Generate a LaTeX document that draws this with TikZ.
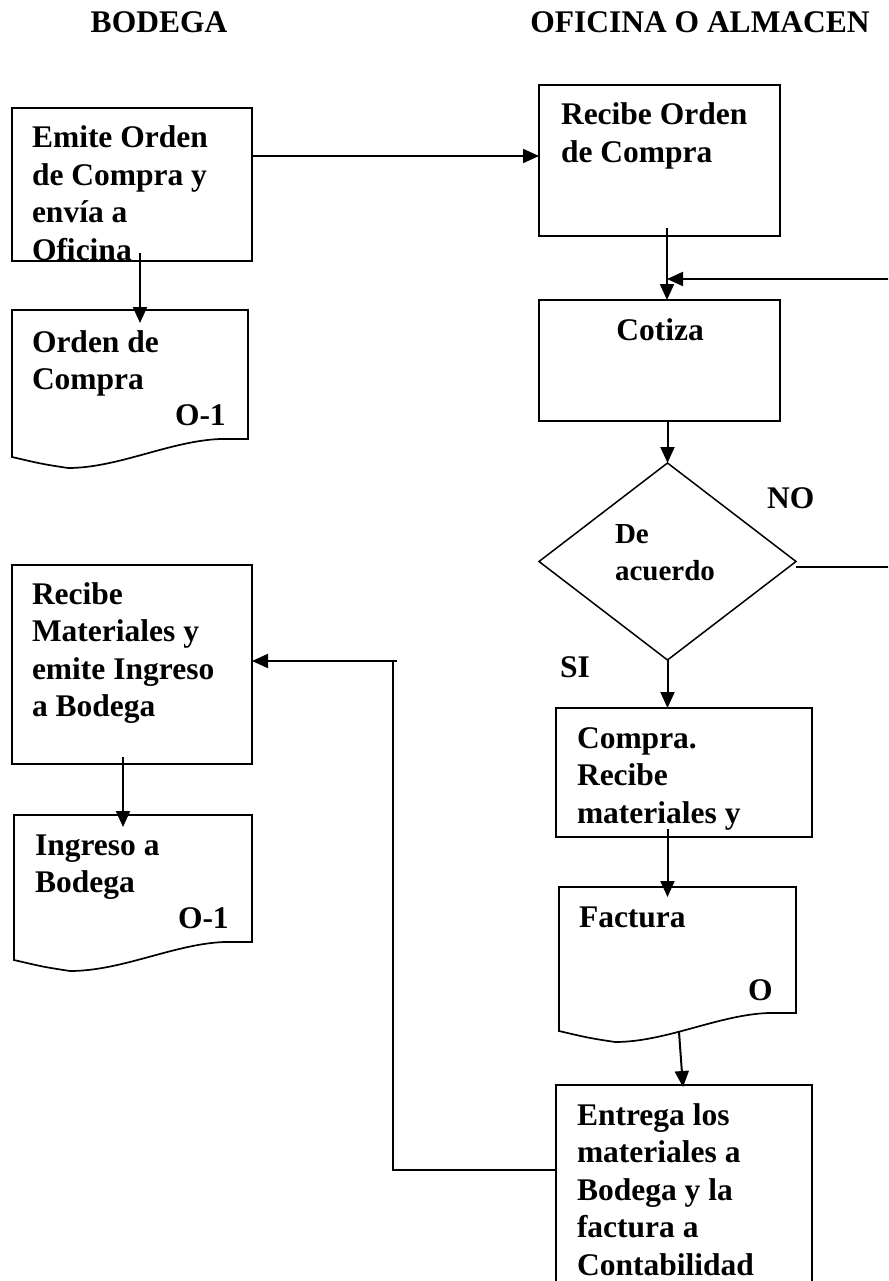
\documentclass[tikz,border=0pt]{standalone}
\usepackage{fontspec}
\setmainfont{Liberation Serif}
\usetikzlibrary{arrows.meta,shapes.geometric,calc}

% left-aligned lines whose reference point is the first baseline
\newcommand{\stack}[1]{\vtop{\let\\\cr\halign{##\hfil\cr#1\crcr}}}

% outline of a flowchart "document" symbol around a named area node
\newcommand{\docoutline}[1]{%
  \draw[line width=1.7pt, line join=miter]
    (#1.north west) -- (#1.north east) -- (#1.south east)
    -- ([xshift=-28pt]#1.south east)
    .. controls ([xshift=-78pt,yshift=-2pt]#1.south east) and ([xshift=-130pt,yshift=-29pt]#1.south east)
    .. ([xshift=56pt,yshift=-29pt]#1.south west)
    .. controls ([xshift=30pt,yshift=-25pt]#1.south west)
    .. ([yshift=-18pt]#1.south west) -- cycle;}

\begin{document}
\begin{tikzpicture}[x=1pt,y=-1pt,
  lbl/.style={font=\fontsize{31.5}{37.5}\selectfont\bfseries, inner sep=0pt, outer sep=0pt, anchor=base west},
  smalllbl/.style={lbl, font=\fontsize{29}{37}\selectfont\bfseries},
  stepbox/.style={draw, line width=1.7pt, inner sep=0pt, outer sep=0pt, anchor=north west},
  docarea/.style={inner sep=0pt, outer sep=0pt, anchor=north west},
  flow/.style={line width=2pt, -{Triangle[width=14pt,length=16pt]}},
  link/.style={line width=1.5pt},
]
\useasboundingbox (0,0) rectangle (888,1281);
\fill[white] (0,0) rectangle (888,1281);
\clip (0,0) rectangle (888,1281);

% column headings
\node[lbl, anchor=base] (hbod) at (159,33) {BODEGA};
\node[lbl, anchor=base] (hofi) at (700,33) {OFICINA O ALMACEN};

% ---- BODEGA column ----
\node[stepbox, minimum width=240pt, minimum height=153pt] (emite) at (12,108) {};
\begin{scope}
  \clip (emite.north west) rectangle (emite.south east);
  \node[lbl] (emitet) at (32,148) {\stack{Emite Orden\\de Compra y\\envía a\\Oficina}};
\end{scope}

\node[docarea, minimum width=236pt, minimum height=129pt] (ordoc) at (12,310) {};
\docoutline{ordoc}
\node[lbl] (ordoct) at (32,352) {\stack{Orden de\\Compra}};
\node[lbl] (ordocn) at (175,425) {O-1};

\node[stepbox, minimum width=240pt, minimum height=199pt] (recmat) at (12,565) {};
\node[lbl] (recmatt) at (32,604) {\stack{Recibe\\Materiales y\\emite Ingreso\\a Bodega}};

\node[docarea, minimum width=238pt, minimum height=127pt] (ingdoc) at (14,815) {};
\docoutline{ingdoc}
\node[lbl] (ingdoct) at (35,855) {\stack{Ingreso a\\Bodega}};
\node[lbl] (ingdocn) at (178,928) {O-1};

% ---- OFICINA column ----
\node[stepbox, minimum width=241pt, minimum height=151pt] (record) at (539,85) {};
\node[lbl] (recordt) at (561,125) {\stack{Recibe Orden\\de Compra}};

\node[stepbox, minimum width=241pt, minimum height=121pt] (cot) at (539,300) {};
\node[lbl, anchor=base] (cott) at (660,340) {Cotiza};

\node[draw, diamond, aspect=1.305, minimum width=257pt, minimum height=197pt,
      line width=1.5pt, inner sep=0pt, outer sep=0pt] (dec) at (667.5,561.5) {};
\node[smalllbl] (dect) at (615,543) {\stack{De\\acuerdo}};
\node[lbl] (nolbl) at (767,508) {NO};
\node[lbl] (silbl) at (560,677) {SI};

\node[stepbox, minimum width=256pt, minimum height=129pt] (compra) at (556,708) {};
\node[lbl] (comprat) at (577,748) {\stack{Compra.\\Recibe\\materiales y}};

\node[docarea, minimum width=237pt, minimum height=126pt] (fact) at (559,887) {};
\docoutline{fact}
\node[lbl] (factt) at (579,927) {Factura};
\node[lbl] (factn) at (748,1000) {O};

\node[stepbox, minimum width=256pt, minimum height=230pt] (ent) at (556,1085) {};
\node[lbl] (entt) at (577,1125) {\stack{Entrega los\\materiales a\\Bodega y la\\factura a\\Contabilidad}};

% ---- connectors ----
\path ([xshift=7.5pt,yshift=-43pt]record.south) coordinate (join);
\coordinate (loopa) at (905,567);
\coordinate (loopb) at (905,279);
\coordinate (back) at (393,661);

\draw[flow] ([yshift=28.5pt]emite.east) -- ([yshift=28.5pt]emite.east -| record.west);
\draw[flow] ([xshift=8pt,yshift=8pt]emite.south) -- ([xshift=8pt,yshift=-13pt]emite.south |- ordoc.north);
\draw[flow] ([xshift=7.5pt,yshift=8pt]record.south) -- ([xshift=7.5pt]record.south |- cot.north);
\draw[link] ([yshift=-5.5pt]dec.east) -- (loopa) -- (loopb);
\draw[flow] (loopb) -- (join);
\draw[flow] (cot.south -| dec.north) -- (dec.north);
\draw[flow] (dec.south) -- (dec.south |- compra.north);
\draw[flow] ([yshift=8pt]compra.south -| dec.south) -- ([yshift=-10pt]dec.south |- fact.north);
\draw[flow] ([xshift=1.5pt,yshift=-19pt]fact.south) -- ([xshift=-1pt,yshift=-2pt]ent.north);
\draw[link] ([yshift=30pt]ent.west) -| (back);
\draw[flow] ([xshift=4pt]back) -- (back -| recmat.east);
\draw[flow] ([xshift=-9pt,yshift=7pt]recmat.south) -- ([xshift=-9pt,yshift=-12pt]recmat.south |- ingdoc.north);
\end{tikzpicture}
\end{document}
